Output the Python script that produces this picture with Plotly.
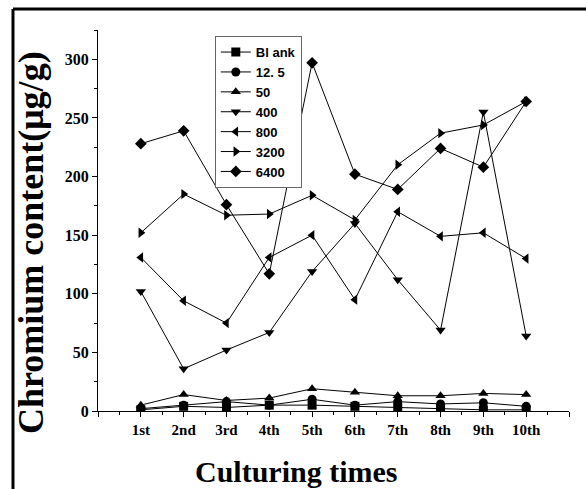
import plotly.graph_objects as go

categories = ["1st", "2nd", "3rd", "4th", "5th", "6th", "7th", "8th", "9th", "10th"]
x_pos = [1, 2, 3, 4, 5, 6, 7, 8, 9, 10]

blank = [1, 4, 3, 5, 5, 4, 3, 2, 1, 1]
c12_5 = [2, 5, 8, 5, 10, 5, 8, 6, 7, 4]
c50 = [5, 14, 9, 11, 19, 16, 13, 13, 15, 14]
c400 = [102, 36, 52, 67, 119, 160, 112, 69, 255, 64]
c800 = [131, 94, 75, 131, 150, 95, 170, 149, 152, 130]
c3200 = [152, 185, 167, 168, 184, 163, 210, 237, 244, 264]
c6400 = [228, 239, 176, 117, 297, 202, 189, 224, 208, 264]

series = [
    ("Bl ank", blank, "square"),
    ("12. 5", c12_5, "circle"),
    ("50", c50, "triangle-up"),
    ("400", c400, "triangle-down"),
    ("800", c800, "triangle-left"),
    ("3200", c3200, "triangle-right"),
    ("6400", c6400, "diamond"),
]

fig = go.Figure()
for name, vals, sym in series:
    fig.add_trace(go.Scatter(
        x=x_pos, y=vals, name=name, mode="lines+markers",
        line=dict(color="black", width=1),
        marker=dict(symbol=sym, size=9, color="black"),
    ))

serif = "Liberation Serif"
fig.update_layout(
    width=586, height=489,
    margin=dict(l=98, r=17, t=30, b=78),
    paper_bgcolor="white", plot_bgcolor="white",
    showlegend=True,
    legend=dict(
        x=0.248, y=0.984, xanchor="left", yanchor="top",
        bgcolor="white", bordercolor="#666666", borderwidth=1,
        font=dict(family="Liberation Sans", size=13, color="black", weight="bold"),
        itemwidth=30, tracegroupgap=0,
    ),
    xaxis=dict(
        range=[0, 11], tickmode="array",
        tickvals=[0] + x_pos + [11], ticktext=[""] + categories + [""],
        ticks="outside", ticklen=5, tickcolor="black",
        minor=dict(tick0=0.5, dtick=1, ticks="outside", ticklen=3, tickcolor="black"),
        showline=True, linecolor="black", linewidth=1,
        showgrid=False, zeroline=False,
        tickfont=dict(family=serif, size=15, color="black", weight="bold"),
    ),
    yaxis=dict(
        range=[0, 325], tick0=0, dtick=50,
        ticks="outside", ticklen=5, tickcolor="black",
        minor=dict(dtick=25, ticks="outside", ticklen=3, tickcolor="black"),
        showline=True, linecolor="black", linewidth=1,
        showgrid=False, zeroline=False,
        tickfont=dict(family=serif, size=16, color="black", weight="bold"),
    ),
    annotations=[
        dict(text="Chromium content(μg/g)", xref="paper", yref="paper",
             x=-0.142, y=0.441, xanchor="center", yanchor="middle",
             textangle=-90, showarrow=False,
             font=dict(family=serif, size=36, color="black", weight="bold")),
        dict(text="Culturing times", xref="paper", yref="paper",
             x=0.4225, y=-0.16, xanchor="center", yanchor="middle",
             showarrow=False,
             font=dict(family=serif, size=30, color="black", weight="bold")),
    ],
    shapes=[
        dict(type="line", xref="paper", yref="paper", x0=-0.1805, x1=-0.1805,
             y0=1.0551, y1=-0.25, line=dict(color="black", width=3)),
        dict(type="line", xref="paper", yref="paper", x0=-0.1805, x1=1.06,
             y0=1.0551, y1=1.0551, line=dict(color="black", width=3)),
    ],
)

fig.write_html("out.html", config={"displayModeBar": False},
               post_script="document.body.style.margin='0';")
